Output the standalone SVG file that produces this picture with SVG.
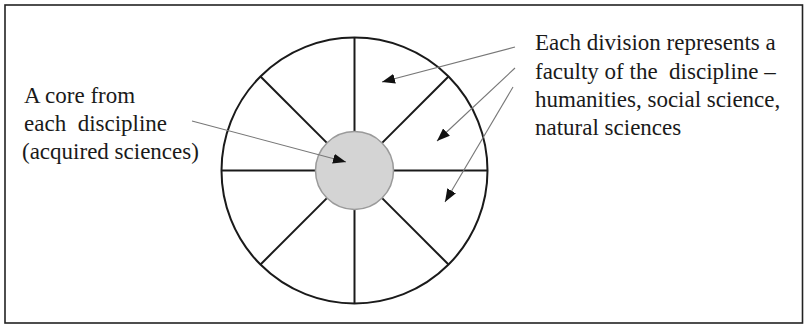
<svg xmlns="http://www.w3.org/2000/svg" width="805" height="326" viewBox="0 0 805 326">
  <style>
    .frame { fill: #ffffff; stroke: #222222; stroke-width: 1.6; }
    .outer { fill: #ffffff; stroke: #1a1a1a; stroke-width: 2; }
    .spoke { stroke: #1a1a1a; stroke-width: 2; fill: none; }
    .core { fill: #d4d4d4; stroke: #9a9a9a; stroke-width: 1.5; }
    .conn { stroke: #777777; stroke-width: 1.1; fill: none; marker-end: url(#ah); }
    .lbl { font-size: 23px; fill: #1a1a1a; white-space: pre; }
  </style>
  <defs>
    <marker id="ah" markerUnits="userSpaceOnUse" markerWidth="14" markerHeight="10" refX="13" refY="5" orient="auto">
      <path d="M0,0 L13,5 L0,10 Z" fill="#111111"/>
    </marker>
  </defs>
  <rect class="frame" x="5" y="5" width="797.5" height="318"/>

  <g id="wheel">
    <circle class="outer" cx="354.5" cy="170.5" r="133"/>
    <line class="spoke" x1="354.5" y1="37.5" x2="354.5" y2="131.5"/>
    <line class="spoke" x1="354.5" y1="209.5" x2="354.5" y2="303.5"/>
    <line class="spoke" x1="221.5" y1="170.5" x2="315.5" y2="170.5"/>
    <line class="spoke" x1="393.5" y1="170.5" x2="487.5" y2="170.5"/>
    <line class="spoke" x1="260.5" y1="76.5" x2="326.9" y2="142.9"/>
    <line class="spoke" x1="448.5" y1="76.5" x2="382.1" y2="142.9"/>
    <line class="spoke" x1="260.5" y1="264.5" x2="326.9" y2="198.1"/>
    <line class="spoke" x1="448.5" y1="264.5" x2="382.1" y2="198.1"/>
  </g>

  <g id="core">
    <circle class="core" cx="354.5" cy="170.5" r="39"/>
  </g>

  <g id="connectors">
    <line class="conn" x1="192" y1="121" x2="346" y2="162"/>
    <line class="conn" x1="515" y1="47" x2="382" y2="82"/>
    <line class="conn" x1="515" y1="68" x2="437" y2="141"/>
    <line class="conn" x1="513" y1="87" x2="445" y2="202"/>
  </g>

  <g id="core-label" font-family="'Liberation Serif', 'Times New Roman', Times, serif">
    <text class="lbl" x="24" y="103">A core from</text>
    <text class="lbl" x="24" y="131">each  discipline</text>
    <text class="lbl" x="22" y="158.5">(acquired sciences)</text>
  </g>

  <g id="division-label" font-family="'Liberation Serif', 'Times New Roman', Times, serif">
    <text class="lbl" x="535" y="50">Each division represents a</text>
    <text class="lbl" x="535" y="78.5">faculty of the  discipline –</text>
    <text class="lbl" x="535" y="106.5">humanities, social science,</text>
    <text class="lbl" x="535" y="135">natural sciences</text>
  </g>
</svg>
